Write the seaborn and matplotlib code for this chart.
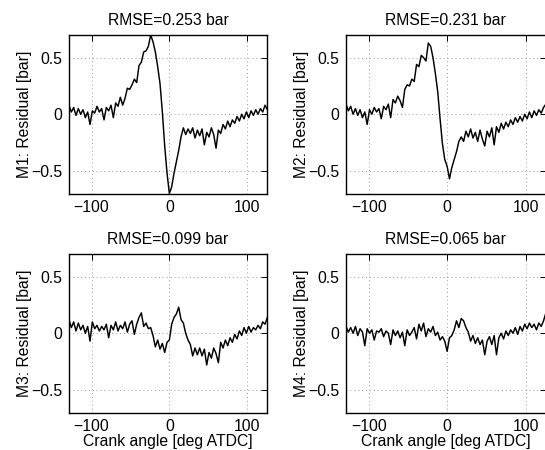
import numpy as np
import pandas as pd
import matplotlib
matplotlib.use("Agg")
import matplotlib.pyplot as plt
import seaborn as sns

sns.set_style("white")
plt.rcParams['font.family'] = ['Liberation Sans', 'DejaVu Sans']
plt.rcParams['axes.unicode_minus'] = True
plt.rcParams['text.color'] = 'black'
plt.rcParams['axes.labelcolor'] = 'black'
plt.rcParams['xtick.color'] = 'black'
plt.rcParams['ytick.color'] = 'black'

crank = np.arange(-129, 127, 3)

m1 = [0.08, 0.02, 0.06, -0.01, 0.05, 0.00, 0.04, -0.03, 0.02, -0.09,
      0.03, 0.01, 0.07, 0.02, 0.05, -0.05, 0.06, 0.03, 0.08, -0.03,
      0.10, 0.07, 0.15, 0.08, 0.14, 0.23, 0.22, 0.26, 0.31, 0.28,
      0.43, 0.46, 0.55, 0.56, 0.60, 0.70, 0.64, 0.55, 0.42, 0.27,
      0.02, -0.28, -0.52, -0.70, -0.64, -0.52, -0.42, -0.32, -0.20, -0.12,
      -0.18, -0.13, -0.17, -0.12, -0.21, -0.14, -0.19, -0.13, -0.27, -0.16,
      -0.20, -0.12, -0.18, -0.30, -0.14, -0.17, -0.09, -0.13, -0.06, -0.11,
      -0.05, -0.08, -0.02, -0.06, 0.00, -0.04, 0.02, -0.03, 0.03, -0.01,
      0.04, 0.00, 0.05, 0.02, 0.08, 0.04]

m2 = [0.09, 0.03, 0.07, 0.00, 0.05, -0.01, 0.04, -0.03, 0.02, -0.09,
      0.04, 0.00, 0.06, 0.02, 0.05, -0.04, 0.07, 0.04, 0.09, -0.03,
      0.13, 0.10, 0.16, 0.12, 0.06, 0.22, 0.26, 0.25, 0.31, 0.29,
      0.44, 0.42, 0.52, 0.50, 0.47, 0.63, 0.60, 0.50, 0.36, 0.20,
      -0.04, -0.26, -0.40, -0.46, -0.57, -0.47, -0.40, -0.33, -0.24, -0.20,
      -0.24, -0.15, -0.20, -0.13, -0.21, -0.16, -0.24, -0.14, -0.22, -0.28,
      -0.15, -0.20, -0.12, -0.27, -0.11, -0.16, -0.08, -0.13, -0.07, -0.11,
      -0.05, -0.09, -0.03, -0.07, -0.02, -0.06, 0.00, -0.04, 0.02, -0.03,
      0.03, -0.01, 0.04, 0.01, 0.06, 0.09]

m3 = [0.12, 0.05, 0.10, 0.02, 0.09, 0.03, 0.07, 0.00, 0.06, -0.07,
      0.10, 0.04, 0.07, 0.02, 0.06, 0.03, 0.08, -0.04, 0.07, 0.03,
      0.10, 0.02, 0.07, 0.04, 0.10, 0.01, 0.08, 0.11, -0.01, 0.08,
      0.14, 0.18, 0.06, 0.09, 0.04, 0.05, -0.02, -0.12, -0.06, -0.14,
      -0.09, -0.17, -0.08, -0.06, 0.08, 0.14, 0.17, 0.23, 0.12, 0.09,
      0.00, -0.06, -0.10, -0.20, -0.13, -0.19, -0.13, -0.20, -0.14, -0.28,
      -0.17, -0.22, -0.13, -0.18, -0.26, -0.08, -0.13, -0.06, -0.11, -0.04,
      -0.08, -0.01, -0.05, 0.02, -0.02, 0.05, 0.00, 0.06, 0.01, 0.05,
      0.03, 0.07, 0.04, 0.10, 0.08, 0.14]

m4 = [0.06, 0.01, 0.05, 0.00, 0.06, -0.02, 0.04, 0.01, -0.11, 0.04,
      0.00, 0.03, -0.06, 0.02, 0.01, 0.04, -0.03, 0.02, 0.00, -0.10,
      0.03, -0.02, 0.02, -0.04, 0.01, -0.11, 0.03, -0.02, 0.01, 0.05,
      -0.05, 0.08, 0.02, 0.09, -0.03, 0.04, 0.01, 0.06, -0.02, 0.01,
      -0.06, -0.03, -0.07, -0.16, -0.04, -0.02, 0.03, 0.11, 0.05, 0.13,
      0.11, 0.05, 0.01, -0.07, -0.02, -0.09, -0.04, -0.10, -0.06, -0.19,
      -0.07, -0.03, -0.10, -0.02, -0.19, -0.04, 0.00, -0.05, 0.02, -0.02,
      0.03, 0.00, 0.05, -0.01, 0.06, 0.02, 0.08, 0.04, 0.09, 0.05,
      0.08, 0.03, 0.09, 0.06, 0.11, 0.18]

series = [m1, m2, m3, m4]
names = ["M1", "M2", "M3", "M4"]
rmse = ["0.253", "0.231", "0.099", "0.065"]
xticks = [-100, 0, 100]
yticks = [-0.5, 0, 0.5]

W, H = 545, 450
fig = plt.figure(figsize=(W / 100, H / 100), dpi=100)
boxes = [
    (69, 35, 198, 158.5),
    (346, 35, 199.5, 158.5),
    (69, 254, 198, 158.5),
    (346, 254, 199.5, 158.5),
]
fs = 11.3
for k, (l, t, w, h) in enumerate(boxes):
    ax = fig.add_axes([l / W, 1 - (t + h) / H, w / W, h / H])
    df = pd.DataFrame({"angle": crank, "res": series[k]})
    sns.lineplot(data=df, x="angle", y="res", ax=ax, color="black",
                 linewidth=1.05, estimator=None, sort=False)
    ax.set_xlim(-129, 125.5)
    ax.set_ylim(-0.7, 0.7)
    ax.set_xticks(xticks)
    ax.set_yticks(yticks)
    ax.set_xticklabels([f"{v}".replace("-", "\u2212") for v in xticks])
    ax.set_yticklabels(["\u22120.5", "0", "0.5"])
    ax.tick_params(direction="in", length=4, width=0.7, top=True, right=True,
                   labelsize=fs, pad=5, color="black", labelcolor="black")
    ax.grid(True, linestyle=(0, (1, 3)), color="#999999", linewidth=0.7)
    for s in ax.spines.values():
        s.set_color("black")
        s.set_linewidth(1.0)
    ax.set_title(f"RMSE={rmse[k]} bar", fontsize=fs, pad=7, color="black")
    ax.set_ylabel(f"{names[k]}: Residual [bar]", fontsize=fs, labelpad=-1,
                  color="black")
    if k >= 2:
        ax.set_xlabel("Crank angle [deg ATDC]", fontsize=fs, labelpad=0,
                      color="black")
    else:
        ax.set_xlabel("")

fig.savefig("out.png", dpi=100)
